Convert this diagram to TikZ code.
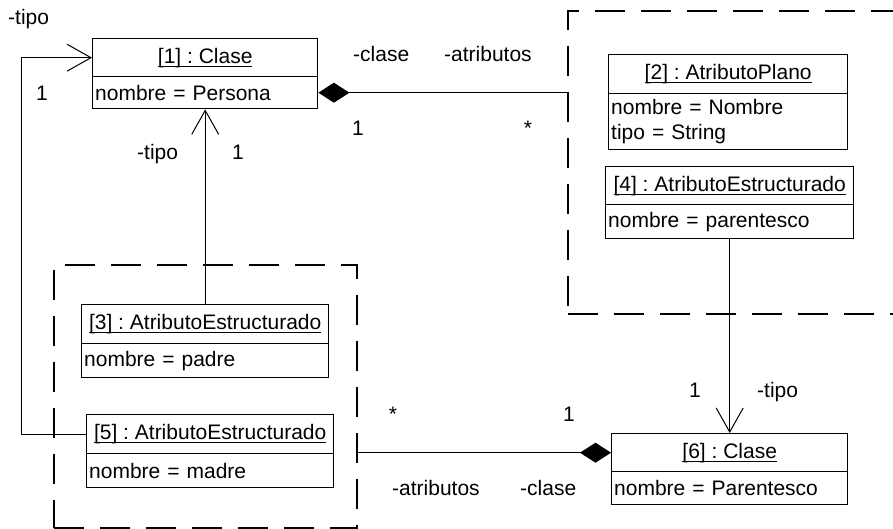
\documentclass[tikz,border=0pt]{standalone}
\usepackage{fontspec}
\setmainfont{Liberation Sans}
\usetikzlibrary{arrows.meta}
\frenchspacing

% underlined object title (UML instance name)
\newcommand\hdrline[1]{\sbox0{#1}\rlap{\rule[-3.5pt]{\wd0}{1.1pt}}\usebox0}

\begin{document}
\begin{tikzpicture}[x=1pt,y=-1pt,
  txt/.style={font=\fontsize{21pt}{25pt}\selectfont\frenchspacing},
  objhdr/.style={txt, draw, line width=1.4pt, inner sep=0pt, anchor=north west, align=center},
  objbody/.style={txt, draw, line width=1.4pt, inner xsep=2.5pt, inner ysep=0pt, anchor=north west, align=left},
  conn/.style={line width=1pt},
  grp/.style={draw, line width=1.5pt, dash pattern=on 30pt off 16pt, anchor=north west, inner sep=0pt},
  navarrow/.style={-{Straight Barb[length=24pt,width=27pt]}},
  lbl/.style={txt, inner sep=0pt, anchor=base west},
  lblc/.style={txt, inner sep=0pt, anchor=base}]
\useasboundingbox (0,0) rectangle (893,528);

% dashed groupings
\node[grp, minimum width=360pt, minimum height=303pt] (grpA) at (567,10) {};
\node[grp, minimum width=303pt, minimum height=263pt] (grpB) at (53,264) {};

% [1] : Clase
\node[objhdr, minimum width=225pt, minimum height=38pt] (c1) at (92,38) {\hdrline{[1] : Clase}};
\node[objbody, text width=220pt, minimum height=32pt] (c1b) at (92,76) {nombre = Persona};

% [2] : AtributoPlano
\node[objhdr, minimum width=239pt, minimum height=39pt] (c2) at (608,54) {\hdrline{[2] : AtributoPlano}};
\node[objbody, text width=234pt, minimum height=56pt] (c2b) at (608,93) {nombre = Nombre\\tipo = String};

% [4] : AtributoEstructurado
\node[objhdr, minimum width=248pt, minimum height=38pt] (c4) at (605,166) {\hdrline{[4] : AtributoEstructurado}};
\node[objbody, text width=243pt, minimum height=34pt] (c4b) at (605,204) {nombre = parentesco};

% [3] : AtributoEstructurado
\node[objhdr, minimum width=247pt, minimum height=39pt] (c3) at (81,304) {\hdrline{[3] : AtributoEstructurado}};
\node[objbody, text width=242pt, minimum height=34pt] (c3b) at (81,343) {nombre = padre};

% [5] : AtributoEstructurado
\node[objhdr, minimum width=247pt, minimum height=39pt] (c5) at (86,414) {\hdrline{[5] : AtributoEstructurado}};
\node[objbody, text width=242pt, minimum height=34pt] (c5b) at (86,453) {nombre = madre};

% [6] : Clase
\node[objhdr, minimum width=236pt, minimum height=38pt] (c6) at (611,433) {\hdrline{[6] : Clase}};
\node[objbody, text width=231pt, minimum height=33pt] (c6b) at (611,471) {nombre = Parentesco};

% compositions
\draw[conn, {Diamond[length=31pt,width=20pt]}-] (c1b.east) -- (c1b.east -| grpA.west);
\draw[conn, -{Diamond[length=31pt,width=20pt]}] (c6.west -| grpB.east) -- (c6.west);

% type references
\draw[conn, navarrow] (c3.north) -- (c3.north |- c1b.south);
\draw[conn, navarrow] (c5.west) -- ++(-65,0) |- (c1.west);
\draw[conn, navarrow] (c4b.south) -- (c6.north);

% role names and multiplicities
\node[lbl]  (t1) at (8,24) {-tipo};
\node[lblc] (m1) at (42,100) {1};
\node[lbl]  (r1) at (353,61) {-clase};
\node[lbl]  (r2) at (444,61) {-atributos};
\node[lblc] (m2) at (358,135) {1};
\node[lblc] (m3) at (528,135) {*};
\node[lbl]  (t2) at (137,159) {-tipo};
\node[lblc] (m4) at (238,159) {1};
\node[lblc] (m5) at (695,397) {1};
\node[lbl]  (t3) at (757,397) {-tipo};
\node[lblc] (m6) at (393,421) {*};
\node[lblc] (m7) at (569,421) {1};
\node[lbl]  (r3) at (392,495) {-atributos};
\node[lbl]  (r4) at (520,495) {-clase};
\end{tikzpicture}
\end{document}
